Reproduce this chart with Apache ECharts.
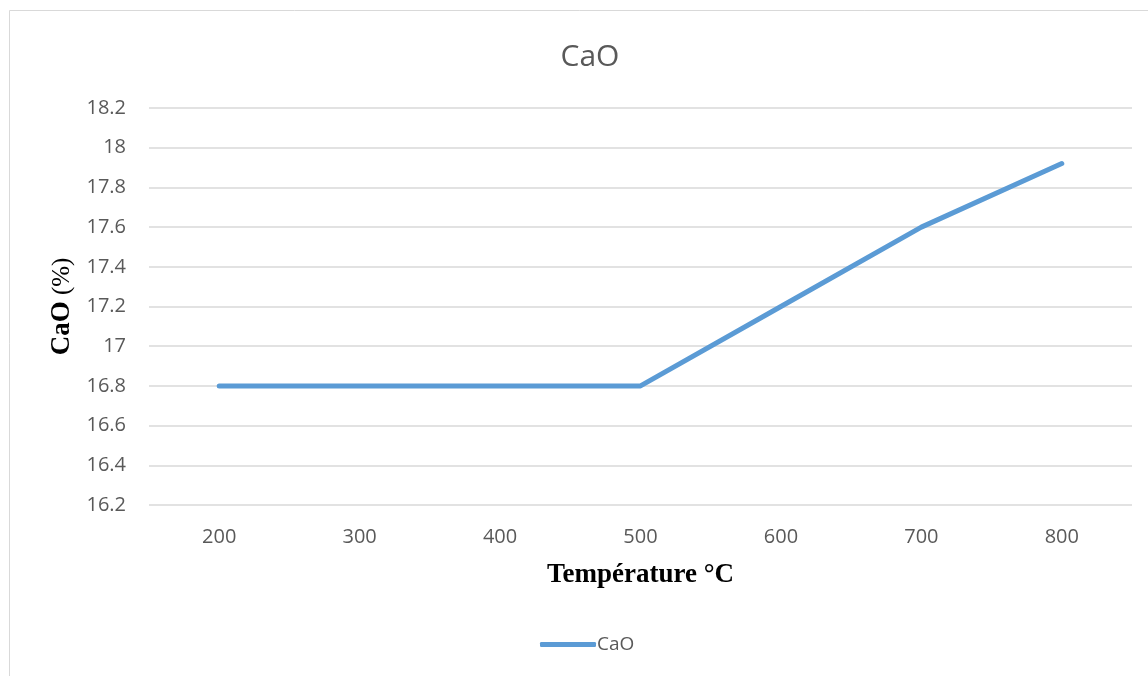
<!DOCTYPE html>
<html>
<head>
<meta charset="utf-8">
<script src="https://cdn.jsdelivr.net/npm/echarts@6/dist/echarts.min.js"></script>
<style>
  html, body { margin: 0; padding: 0; background: #ffffff; }
  #chart { width: 1148px; height: 676px; }
</style>
</head>
<body>
<div id="chart"></div>
<script>
// Temperature steps (°C) and CaO content (%)
const temperatures = ['200', '300', '400', '500', '600', '700', '800'];
const caoValues = [16.8, 16.8, 16.8, 16.8, 17.2, 17.6, 17.92];
const seriesName = 'CaO';

const textGrey = '#595959';
const sansFont = '"Open Sans", "Noto Sans", "Liberation Sans", sans-serif';
const serifFont = '"Liberation Serif", "DejaVu Serif", serif';

const chart = echarts.init(document.getElementById('chart'), null, { renderer: 'canvas' });

chart.setOption({
  backgroundColor: '#ffffff',
  animation: false,
  graphic: [{
    type: 'rect',
    shape: { x: 9.5, y: 10.5, width: 1160, height: 700 },
    style: { fill: 'none', stroke: '#d9d9d9', lineWidth: 1 },
    silent: true
  }],
  title: {
    text: 'CaO',
    left: 585,
    top: 37,
    textAlign: 'center',
    textStyle: { color: textGrey, fontSize: 30, fontWeight: 'normal', fontFamily: sansFont }
  },
  legend: {
    data: [seriesName],
    bottom: 17,
    left: 535,
    icon: 'roundRect',
    itemWidth: 56,
    itemHeight: 5,
    itemGap: 10,
    textStyle: { color: textGrey, fontSize: 19, fontFamily: sansFont, padding: [0, 0, 0, -4] }
  },
  grid: { left: 149, right: 16, top: 108, bottom: 171, containLabel: false },
  xAxis: {
    type: 'category',
    data: temperatures,
    boundaryGap: true,
    name: 'Température °C',
    nameLocation: 'middle',
    nameGap: 57,
    nameTextStyle: { color: '#000000', fontSize: 27, fontWeight: 'bold', fontFamily: serifFont },
    axisLine: { show: false },
    axisTick: { show: false },
    axisLabel: { color: textGrey, fontSize: 20, fontFamily: sansFont, margin: 22 },
    splitLine: { show: false }
  },
  yAxis: {
    type: 'value',
    min: 16.2,
    max: 18.2,
    interval: 0.2,
    name: '{b|CaO}{n| (%)}',
    nameLocation: 'middle',
    nameGap: 73,
    nameRotate: 90,
    nameTextStyle: {
      rich: {
        b: { color: '#000000', fontSize: 27, fontWeight: 'bold', fontFamily: serifFont },
        n: { color: '#000000', fontSize: 25, fontWeight: 'normal', fontFamily: serifFont }
      }
    },
    axisLine: { show: false },
    axisTick: { show: false },
    axisLabel: {
      color: textGrey, fontSize: 20, fontFamily: sansFont, margin: 23,
      formatter: v => String(Math.round(v * 10) / 10)
    },
    splitLine: { lineStyle: { color: '#d9d9d9', width: 1.5 } }
  },
  series: [{
    name: seriesName,
    type: 'line',
    data: caoValues,
    showSymbol: false,
    symbol: 'none',
    lineStyle: { color: '#5b9bd5', width: 5, cap: 'round', join: 'round' },
    itemStyle: { color: '#5b9bd5' }
  }]
});
</script>
</body>
</html>
